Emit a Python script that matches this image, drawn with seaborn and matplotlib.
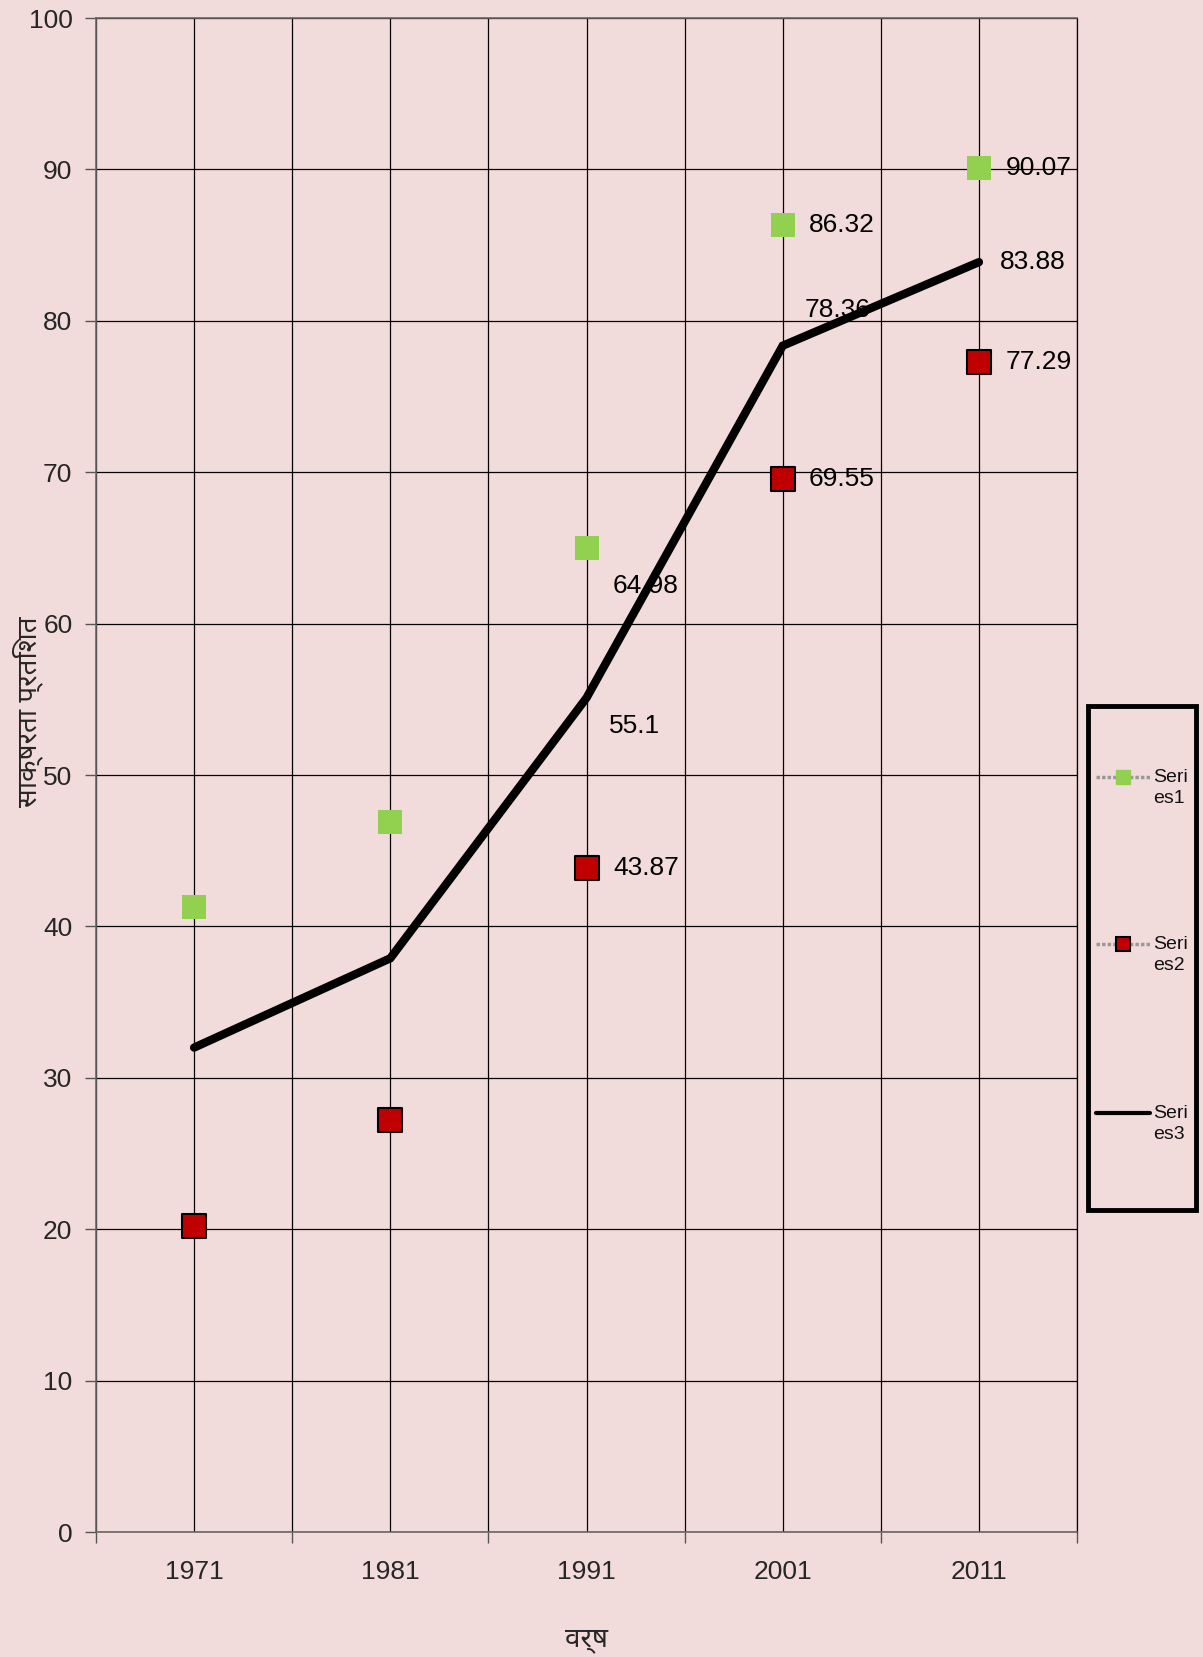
import matplotlib
matplotlib.use("Agg")
import matplotlib.pyplot as plt
import matplotlib.ticker as mticker
from matplotlib.lines import Line2D
from matplotlib.patches import Rectangle
import pandas as pd
import seaborn as sns

# Data
years = [1971, 1981, 1991, 2001, 2011]
series1 = [41.3, 46.9, 64.98, 86.32, 90.07]
series2 = [20.2, 27.2, 43.87, 69.55, 77.29]
series3 = [32.0, 37.9, 55.1, 78.36, 83.88]
labelled_years = [1991, 2001, 2011]
series_names = ["Seri\nes1", "Seri\nes2", "Seri\nes3"]
y_title = "साक्षरता प्रतिशत"
x_title = "वर्ष"

bg = "#F2DCDB"
green = "#92D050"
red = "#C00000"

sns.set_theme(style="white")
plt.rcParams["font.family"] = ["Liberation Sans", "Noto Sans", "DejaVu Sans"]

df = pd.DataFrame({"year": years, "s1": series1, "s2": series2, "s3": series3})

fig = plt.figure(figsize=(12.03, 16.57), dpi=100, facecolor=bg)
ax = fig.add_axes([0.0798, 0.0754, 0.8155, 0.9137])
ax.set_facecolor(bg)

sns.lineplot(data=df, x="year", y="s3", ax=ax, color="black", lw=6,
             solid_capstyle="round", solid_joinstyle="miter", zorder=3)
sns.scatterplot(data=df, x="year", y="s1", ax=ax, marker="s", s=300,
                color=green, edgecolor=green, linewidth=0, zorder=4)
sns.scatterplot(data=df, x="year", y="s2", ax=ax, marker="s", s=290,
                color=red, edgecolor="black", linewidth=1.5, zorder=4)

# data labels (offsets in points)
offsets = {
    ("s1", 1991): (19, -27), ("s1", 2001): (19, 0), ("s1", 2011): (19, 0),
    ("s2", 1991): (19, 0), ("s2", 2001): (19, 0), ("s2", 2011): (19, 0),
    ("s3", 1991): (16, -20), ("s3", 2001): (16, 26), ("s3", 2011): (15, 0),
}
for col in ["s1", "s2", "s3"]:
    for yr, val in zip(df["year"], df[col]):
        if yr in labelled_years:
            ax.annotate(f"{val:g}", (yr, val), xytext=offsets[(col, yr)],
                        textcoords="offset points", ha="left", va="center",
                        fontsize=19, color="black", zorder=5)

ax.set_xlim(1966, 2016)
ax.set_ylim(0, 100)
ax.xaxis.set_major_locator(mticker.MultipleLocator(10, offset=6))
ax.xaxis.set_minor_locator(mticker.FixedLocator(years))
ax.xaxis.set_major_formatter(mticker.NullFormatter())
ax.xaxis.set_minor_formatter(mticker.FixedFormatter([str(y) for y in years]))
ax.yaxis.set_major_locator(mticker.MultipleLocator(10))

ax.grid(True, which="both", axis="x", color="black", lw=0.9)
ax.grid(True, which="major", axis="y", color="black", lw=0.9)
ax.tick_params(axis="x", which="major", length=8, width=1, color="#555555", bottom=True)
ax.tick_params(axis="x", which="minor", length=0, labelsize=19, pad=20)
ax.tick_params(axis="y", which="major", length=8, width=1, color="#555555", left=True,
               labelsize=19, pad=9)

for s in ["left", "bottom", "top"]:
    ax.spines[s].set_color("#666666")
    ax.spines[s].set_linewidth(1.2)
ax.spines["right"].set_color("black")
ax.spines["right"].set_linewidth(0.9)

ax.set_xlabel(x_title, fontsize=20, fontweight="bold", labelpad=30,
              family=["Noto Sans", "DejaVu Sans"])
ax.set_ylabel(y_title, fontsize=20, fontweight="bold",
              family=["Noto Sans", "DejaVu Sans"])
ax.yaxis.set_label_coords(-0.054, 0.5416)

# legend drawn in figure coordinates
fig.patches.append(Rectangle((0.9044, 0.2698), 0.0898, 0.3042, transform=fig.transFigure,
                             facecolor=bg, edgecolor="black", lw=3.5))
legend_lines = [
    dict(color="#999999", ls=(0, (1, 0.6)), lw=2.5),
    dict(color="#999999", ls=(0, (1, 0.6)), lw=2.5),
    dict(color="black", lw=3),
]
legend_markers = [
    dict(markersize=9.5, markerfacecolor=green, markeredgecolor=green),
    dict(markersize=10, markerfacecolor=red, markeredgecolor="black", markeredgewidth=1.5),
    None,
]
legend_y = [0.5311, 0.4303, 0.3283]
for name, lstyle, mstyle, ly in zip(series_names, legend_lines, legend_markers, legend_y):
    fig.add_artist(Line2D([0.911, 0.956], [ly, ly], transform=fig.transFigure, **lstyle))
    if mstyle is not None:
        fig.add_artist(Line2D([0.9335], [ly], transform=fig.transFigure, ls="none",
                              marker="s", **mstyle))
    fig.text(0.9584, ly + 0.005, name, fontsize=14, ha="left", va="top",
             linespacing=1.35, color="#111111")

fig.savefig("out.png", dpi=100, facecolor=bg)
plt.close(fig)
